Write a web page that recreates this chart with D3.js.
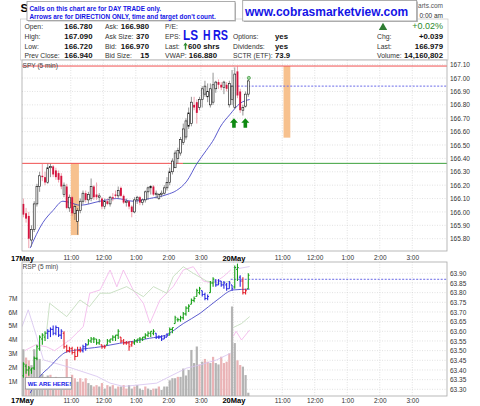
<!DOCTYPE html>
<html>
<head>
<meta charset="utf-8">
<script src="https://cdn.jsdelivr.net/npm/d3@7"></script>
<style>
body { margin: 0; background: #fff; }
svg { display: block; }
text { font-family: "Liberation Sans", Arial, sans-serif; }
</style>
</head>
<body>
<script>
// ---- axis labels / ticks ----
const dayLabels = ["17May", "20May"];
const dayStart = [0, 78];
const hourLabels = ["11:00", "12:00", "1:00", "2:00", "3:00"];
const hourOffsets = [18, 30, 42, 54, 66];
const spyTicks = [165.80, 165.90, 166.00, 166.10, 166.20, 166.30, 166.40, 166.50, 166.60, 166.70, 166.80, 166.90, 167.00, 167.10];
const rspTicks = [63.30, 63.35, 63.40, 63.45, 63.50, 63.55, 63.60, 63.65, 63.70, 63.75, 63.80, 63.85, 63.90];
const volTicks = [1, 2, 3, 4, 5, 6, 7];

// ---- SPY 5 min candles (17 May: 78 bars, 20 May: 6 bars) ----
const spyOpen = [166.06,165.99,165.97,165.79,165.87,166.06,166.19,166.27,166.26,166.22,166.33,166.34,166.31,166.29,166.27,166.13,166.19,166.03,166.11,165.99,
  165.93,166.01,166.08,166.14,166.09,166.10,166.19,166.13,166.11,166.10,166.04,166.08,166.06,166.11,166.13,166.12,166.18,166.12,166.07,166.08,
  166.04,166.00,166.09,166.11,166.07,166.09,166.15,166.18,166.19,166.13,166.10,166.13,166.14,166.18,166.22,166.30,166.33,166.40,166.44,166.52,
  166.56,166.64,166.66,166.80,166.82,166.78,166.84,166.88,166.86,166.80,166.82,166.92,166.97,166.95,166.93,166.95,166.80,166.84,
  166.78,167.05,166.90,166.76,166.79,166.88];
const spyHigh = [166.10,166.03,166.00,165.90,166.08,166.21,166.30,166.36,166.30,166.36,166.36,166.35,166.33,166.31,166.29,166.22,166.21,166.13,166.12,166.06,
  166.03,166.10,166.16,166.16,166.15,166.25,166.20,166.22,166.14,166.11,166.10,166.10,166.12,166.14,166.16,166.19,166.19,166.13,166.10,166.09,
  166.05,166.11,166.12,166.12,166.10,166.16,166.19,166.20,166.20,166.16,166.14,166.16,166.20,166.26,166.33,166.40,166.46,166.48,166.56,166.66,
  166.70,166.78,166.86,166.86,166.84,166.86,166.94,166.98,166.96,166.96,167.04,166.98,166.99,166.97,166.98,166.97,166.98,167.06,
  167.08,167.09,166.92,166.80,166.90,166.99];
const spyLow = [165.96,165.92,165.73,165.74,165.85,166.04,166.15,166.23,166.20,166.21,166.26,166.26,166.24,166.22,166.17,166.11,166.02,166.00,165.97,165.94,
  165.83,165.99,166.06,166.07,166.06,166.08,166.09,166.09,166.07,166.02,166.02,166.05,166.04,166.08,166.10,166.10,166.11,166.06,166.04,166.02,
  165.96,165.99,166.06,166.05,166.05,166.07,166.09,166.13,166.12,166.10,166.09,166.11,166.13,166.16,166.20,166.28,166.33,166.36,166.42,166.50,
  166.54,166.62,166.64,166.76,166.66,166.76,166.78,166.86,166.82,166.78,166.80,166.89,166.92,166.91,166.88,166.90,166.78,166.80,
  166.77,166.85,166.74,166.72,166.78,166.86];
const spyClose = [165.98,165.95,165.80,165.87,166.06,166.19,166.27,166.26,166.22,166.33,166.34,166.28,166.26,166.24,166.19,166.20,166.03,166.11,165.99,166.04,
  166.01,166.08,166.14,166.09,166.13,166.19,166.11,166.11,166.12,166.04,166.08,166.06,166.11,166.10,166.12,166.16,166.12,166.07,166.08,166.04,
  166.00,166.09,166.11,166.07,166.09,166.15,166.18,166.19,166.13,166.14,166.13,166.14,166.18,166.22,166.30,166.38,166.44,166.46,166.54,166.62,
  166.68,166.74,166.82,166.78,166.74,166.84,166.92,166.94,166.90,166.92,166.95,166.97,166.95,166.93,166.97,166.92,166.96,166.94,
  167.03,166.87,166.76,166.78,166.88,166.979];

// moving average (bar index, price)
const spyMaIdx = [3, 7.7, 11.4, 15.1, 17.7, 21.4, 28.8, 35, 41, 47, 53.5, 57, 60.8, 64.5, 68, 71, 73, 76.8, 80.4, 84];
const spyMaVal = [165.73, 165.92, 166.01, 166.08, 166.07, 166.05, 166.08, 166.10, 166.08, 166.10, 166.13, 166.16, 166.23, 166.36, 166.46, 166.55, 166.63, 166.73, 166.81, 166.84];

// annotations on the price panel
const bandStart = [18, 96.5];
const bandEnd = [21, 99];
const bandTop = [166.363, 167.09];
const bandBottom = [165.827, 166.555];
const dayHigh = [166.363, 167.09];
const lineSwitchIdx = 59.4;
const prevClose = 166.94;
const arrowIdx = [78.2, 82.4];
const arrowPrice = [166.70, 166.70];

// ---- RSP 5 min bars ----
const rspOpen = [63.37,63.42,63.40,63.40,63.41,63.46,63.51,63.56,63.57,63.59,63.60,63.61,63.59,63.62,63.58,63.59,63.52,63.50,63.51,63.49,
  63.47,63.50,63.50,63.52,63.53,63.55,63.56,63.56,63.54,63.53,63.52,63.53,63.55,63.56,63.57,63.58,63.57,63.55,63.54,63.54,
  63.53,63.54,63.55,63.56,63.56,63.57,63.58,63.59,63.59,63.59,63.57,63.57,63.56,63.57,63.58,63.61,63.64,63.66,63.66,63.67,
  63.69,63.72,63.74,63.76,63.78,63.80,63.81,63.79,63.77,63.80,63.85,63.86,63.84,63.86,63.84,63.84,63.82,63.84,
  63.83,63.92,63.88,63.86,63.80,63.82];
const rspHigh = [63.44,63.43,63.42,63.41,63.47,63.53,63.58,63.59,63.60,63.61,63.62,63.63,63.63,63.62,63.61,63.60,63.53,63.52,63.52,63.51,
  63.52,63.52,63.53,63.54,63.56,63.57,63.57,63.56,63.56,63.53,63.53,63.56,63.56,63.58,63.58,63.61,63.57,63.56,63.55,63.55,
  63.55,63.56,63.56,63.57,63.57,63.59,63.60,63.60,63.61,63.59,63.58,63.58,63.58,63.59,63.62,63.62,63.68,63.67,63.68,63.70,
  63.73,63.74,63.77,63.78,63.82,63.83,63.81,63.80,63.79,63.86,63.88,63.87,63.87,63.86,63.86,63.85,63.86,63.84,
  63.94,63.95,63.89,63.88,63.82,63.90];
const rspLow = [63.36,63.38,63.37,63.38,63.40,63.45,63.50,63.53,63.55,63.56,63.57,63.58,63.58,63.57,63.56,63.51,63.49,63.49,63.48,63.45,
  63.47,63.49,63.49,63.50,63.53,63.54,63.54,63.53,63.53,63.51,63.51,63.53,63.54,63.55,63.55,63.56,63.54,63.53,63.53,63.50,
  63.52,63.53,63.54,63.54,63.55,63.56,63.57,63.57,63.58,63.56,63.56,63.55,63.56,63.57,63.58,63.59,63.64,63.65,63.65,63.66,
  63.68,63.70,63.74,63.75,63.78,63.79,63.78,63.76,63.76,63.80,63.83,63.83,63.84,63.83,63.82,63.81,63.82,63.81,
  63.82,63.86,63.83,63.79,63.79,63.82];
const rspClose = [63.43,63.40,63.41,63.41,63.46,63.52,63.57,63.58,63.59,63.60,63.61,63.59,63.62,63.58,63.60,63.52,63.50,63.51,63.49,63.47,
  63.50,63.50,63.52,63.53,63.55,63.56,63.56,63.54,63.55,63.52,63.52,63.55,63.56,63.57,63.58,63.60,63.55,63.54,63.54,63.52,
  63.54,63.55,63.56,63.56,63.57,63.58,63.59,63.60,63.60,63.57,63.57,63.56,63.57,63.58,63.61,63.62,63.67,63.66,63.67,63.69,
  63.72,63.73,63.76,63.77,63.81,63.82,63.79,63.77,63.78,63.85,63.87,63.84,63.86,63.84,63.85,63.82,63.85,63.82,
  63.93,63.93,63.86,63.80,63.81,63.89];
const rspTone = ["g","g","g","g","g","g","g","g","g","b","b","b","b","b","b","r","r","r","r","r",
  "r","r","b","b","g","g","g","g","g","r","r","g","g","g","g","g","r","r","r","r",
  "r","g","g","g","g","g","g","g","g","b","b","b","b","b","g","g","g","g","g","g",
  "g","g","g","g","g","g","b","b","b","g","g","b","b","b","b","b","b","b",
  "g","g","b","r","r","g"];

// volume in millions and up/down
const volume = [3.3,2.7,2.5,2.15,3.3,2.7,2.6,1.5,1.3,1.4,1.45,1.2,1.3,1.1,1.0,1.0,2.6,1.1,1.45,1.2,
  0.95,1.2,0.95,1.2,0.85,0.7,0.6,0.7,0.6,0.85,0.45,0.7,0.6,0.7,0.45,0.6,0.6,0.7,0.45,0.7,
  0.45,0.6,0.7,0.45,0.35,0.6,0.45,0.35,0.45,0.45,0.6,0.35,0.6,0.6,1.05,1.2,1.2,1.3,1.3,1.9,
  1.4,1.8,3.25,2.3,3.5,2.2,2.4,2.6,2.4,2.3,2.75,2.3,2.2,2.76,2.3,2.4,3.0,6.4,
  3.75,2.5,2.16,2.04,1.43,0.15];
const volUp = [1,0,0,1,1,1,1,1,0,1,0,1,0,0,1,0,0,0,0,0,
  1,0,0,0,1,1,0,0,1,0,1,0,1,0,1,0,1,0,0,1,
  1,0,1,1,1,0,1,1,0,1,0,1,1,1,1,1,1,0,1,1,
  1,1,1,1,1,0,1,0,0,1,0,1,1,0,0,0,0,1,
  1,0,0,1,1,1];

// moving average and the three faint overlay lines (bar index, value)
const rspMaIdx = [3, 6.6, 10.3, 14, 15.9, 20, 29, 36, 41, 47, 53, 59.5, 65.7, 72, 78, 84];
const rspMaVal = [63.28, 63.366, 63.417, 63.47, 63.49, 63.503, 63.52, 63.538, 63.548, 63.564, 63.58, 63.64, 63.693, 63.762, 63.814, 63.818];
const lavIdx = [0, 2.3, 5.4, 7.9, 16.5, 27.6, 32.5, 37.4, 43.5, 49.7, 54.6, 60.8, 65.7, 71.8, 77];
const lavVal = [63.624, 63.711, 63.573, 63.452, 63.418, 63.367, 63.332, 63.315, 63.323, 63.332, 63.367, 63.41, 63.426, 63.452, 63.487];
const lavIdx2 = [78, 80, 84];
const lavVal2 = [63.93, 63.925, 63.935];
const pinkIdx = [1, 5, 9, 12, 17.7, 22.6, 25, 28.8, 32.5, 35, 37.4, 41, 44.8, 47.2, 50.9, 55.8, 59.5, 63.2, 66.9, 70.6, 74.3, 77];
const pinkVal = [63.50, 63.53, 63.52, 63.50, 63.556, 63.624, 63.797, 63.814, 63.917, 63.83, 63.917, 63.814, 63.745, 63.642, 63.762, 63.831, 63.917, 63.934, 63.86, 63.848, 63.883, 63.917];
const pinkIdx2 = [78, 79, 81, 84];
const pinkVal2 = [63.575, 63.60, 63.555, 63.607];
const greenIdx = [9, 10.2, 16.5, 21.4, 24.9, 28.8, 32.5, 38.6, 44.8, 48.5, 53.4, 55.8, 59.5, 63.2, 68.1, 73, 77];
const greenVal = [63.59, 63.745, 63.676, 63.762, 63.728, 63.797, 63.797, 63.831, 63.779, 63.831, 63.797, 63.883, 63.934, 63.90, 63.86, 63.848, 63.86];
const greenIdx2 = [78, 79.5, 81, 84];
const greenVal2 = [63.62, 63.63, 63.64, 63.676];
const rspRef = 63.869;

// ---- quote box ----
const qLabels1 = ["Open:", "High:", "Low:", "Prev Close:"];
const qValues1 = ["166.780", "167.090", "166.720", "166.940"];
const qLabels2 = ["Ask:", "Ask Size:", "Bid:", "Bid Size:"];
const qValues2 = ["166.980", "370", "166.970", "15"];
const qLabels3 = ["P/E:", "EPS:", "Last:", "VWAP:"];
const qLabels4 = ["", "Options:", "Dividends:", "SCTR (ETF):"];
const qValues4 = ["", "yes", "yes", "73.9"];
const qLabels5 = ["", "Chg:", "Last:", "Volume:"];
const qValues5 = ["", "+0.039", "166.979", "14,160,802"];

const W = 480, H = 406;
const blue = "#1414e6";
const svg = d3.select("body").append("svg").attr("width", W).attr("height", H);

const x = d3.scaleLinear().domain([0, 156]).range([22, 444.8]);
const yP = d3.scaleLinear().domain([165.80, 167.10]).range([238.7, 64.7]);
const yR = d3.scaleLinear().domain([63.30, 63.90]).range([389.3, 273.3]);
const yV = d3.scaleLinear().domain([0, 7]).range([394.8, 298.2]);

const pTop = { x0: 22, x1: 447, y0: 60, y1: 251 };
const pBot = { x0: 22, x1: 447, y0: 262, y1: 396 };

const defs = svg.append("defs");
[["clipTop", pTop], ["clipBot", pBot]].forEach(function(c) {
    defs.append("clipPath").attr("id", c[0]).append("rect")
        .attr("x", c[1].x0).attr("y", c[1].y0).attr("width", c[1].x1 - c[1].x0).attr("height", c[1].y1 - c[1].y0);
});

const gridIdx = [];
dayStart.forEach(function(d) { hourOffsets.forEach(function(h) { gridIdx.push(d + h); }); });
gridIdx.push(dayStart[1]);

function grid(g, p, ys, ticks) {
    g.selectAll(".hg").data(ticks).enter().append("line")
        .attr("x1", p.x0).attr("x2", p.x1).attr("y1", d => ys(d)).attr("y2", d => ys(d))
        .attr("stroke", "#cfcfcf").attr("stroke-width", 0.6).attr("stroke-dasharray", "1,1.5");
    g.selectAll(".vg").data(gridIdx).enter().append("line")
        .attr("x1", d => x(d)).attr("x2", d => x(d)).attr("y1", p.y0).attr("y2", p.y1)
        .attr("stroke", "#cfcfcf").attr("stroke-width", 0.6).attr("stroke-dasharray", "1,1.5");
}

function pts(idx, val) { return idx.map((d, i) => [d, val[i]]); }

// ================= quote header =================
// only the uncovered parts of the title / site stamp show in the reference
svg.append("text").attr("x", 20.5).attr("y", 11.7).attr("font-size", 11.5).attr("font-weight", "bold").text("S");
svg.append("text").attr("x", 443).attr("y", 8.3).attr("text-anchor", "end").attr("font-size", 6.5).attr("fill", "#555")
    .text("arts.com");
svg.append("text").attr("x", 443).attr("y", 18).attr("text-anchor", "end").attr("font-size", 6.5).attr("fill", "#333")
    .text("0:00 am");
svg.append("rect").attr("x", 20.5).attr("y", 19).attr("width", 427.5).attr("height", 41)
    .attr("fill", "none").attr("stroke", "#c8c8c8").attr("stroke-width", 0.7);

const rowY = [29, 38.5, 48.5, 58.3];
function labelCol(labels, lx) {
    svg.append("g").selectAll("text").data(labels).enter().append("text")
        .attr("x", lx).attr("y", (d, i) => rowY[i]).attr("font-size", 6.8).attr("fill", "#333").text(d => d);
}
function valueCol(values, vx, anchor) {
    svg.append("g").selectAll("text").data(values).enter().append("text")
        .attr("x", vx).attr("y", (d, i) => rowY[i]).attr("text-anchor", anchor)
        .attr("font-size", 7.8).attr("font-weight", "bold").attr("fill", "#111").text(d => d);
}
labelCol(qLabels1, 24.5); valueCol(qValues1, 92.5, "end");
labelCol(qLabels2, 105); valueCol(qValues2, 149, "end");
labelCol(qLabels3, 165);
labelCol(qLabels4, 233); valueCol(qValues4, 275, "start");
labelCol(qLabels5, 377); valueCol(qValues5, 443, "end");
svg.append("text").attr("x", 217).attr("y", rowY[3]).attr("text-anchor", "end")
    .attr("font-size", 7.8).attr("font-weight", "bold").attr("fill", "#111").text("166.880");
svg.append("path").attr("d", "M185.5,42.5 L183.3,45.6 L184.8,45.6 L184.8,49.5 L186.2,49.5 L186.2,45.6 L187.7,45.6 Z")
    .attr("fill", "#2e8b2e");
svg.append("text").attr("x", 188).attr("y", rowY[2]).attr("font-size", 7.8).attr("font-weight", "bold")
    .attr("fill", "#111").text("600 shrs");
svg.append("path").attr("d", "M383,22.8 L387.2,30 L378.8,30 Z").attr("fill", "#2e7d32");
svg.append("text").attr("x", 443).attr("y", 29.3).attr("text-anchor", "end").attr("font-size", 9)
    .attr("fill", "#2e8b2e").text("+0.02%");

// LS H RS
[["LS", 183, 15], ["H", 203, 7.5], ["RS", 213, 15]].forEach(function(t) {
    svg.append("text").attr("x", t[1]).attr("y", 39.5).attr("font-size", 14).attr("font-weight", "bold")
        .attr("fill", blue).attr("textLength", t[2]).attr("lengthAdjust", "spacingAndGlyphs").text(t[0]);
});

// note boxes
svg.append("rect").attr("x", 28).attr("y", 2.5).attr("width", 208).attr("height", 19).attr("fill", "#bbb");
svg.append("rect").attr("x", 27).attr("y", 1.5).attr("width", 208).attr("height", 19)
    .attr("fill", "#fff").attr("stroke", "#9a9a9a").attr("stroke-width", 0.8);
svg.append("text").attr("x", 29.5).attr("y", 10.6).attr("font-size", 6.4).attr("font-weight", "bold")
    .attr("fill", blue).text("Calls on this chart are for DAY TRADE only.");
svg.append("text").attr("x", 29.5).attr("y", 18.9).attr("font-size", 6.4).attr("font-weight", "bold")
    .attr("fill", blue).text("Arrows are for DIRECTION ONLY, time and target don't count.");

svg.append("rect").attr("x", 244).attr("y", 1.5).attr("width", 174).attr("height", 20.5).attr("fill", "#bbb");
svg.append("rect").attr("x", 242.7).attr("y", 0.5).attr("width", 174).attr("height", 20.5)
    .attr("fill", "#fff").attr("stroke", "#9a9a9a").attr("stroke-width", 0.8);
svg.append("text").attr("x", 245).attr("y", 16.3).attr("font-size", 12).attr("font-weight", "bold")
    .attr("fill", blue).text("www.cobrasmarketview.com");

// ================= price panel =================
const gT = svg.append("g");
gT.append("rect").attr("x", pTop.x0).attr("y", pTop.y0).attr("width", pTop.x1 - pTop.x0).attr("height", pTop.y1 - pTop.y0).attr("fill", "#fff");
grid(gT, pTop, yP, spyTicks);
const cT = gT.append("g").attr("clip-path", "url(#clipTop)");

cT.selectAll(".band").data(bandStart).enter().append("rect")
    .attr("x", (d, i) => x(d)).attr("width", (d, i) => x(bandEnd[i]) - x(d))
    .attr("y", (d, i) => yP(bandTop[i])).attr("height", (d, i) => yP(bandBottom[i]) - yP(bandTop[i]))
    .attr("fill", "#f7c18e");

cT.append("line").attr("x1", pTop.x0).attr("x2", pTop.x1).attr("y1", yP(dayHigh[1])).attr("y2", yP(dayHigh[1]))
    .attr("stroke", "#f05050").attr("stroke-width", 1);
cT.append("line").attr("x1", pTop.x0).attr("x2", x(lineSwitchIdx)).attr("y1", yP(dayHigh[0])).attr("y2", yP(dayHigh[0]))
    .attr("stroke", "#f05050").attr("stroke-width", 1);
cT.append("line").attr("x1", x(lineSwitchIdx)).attr("x2", pTop.x1).attr("y1", yP(dayHigh[0])).attr("y2", yP(dayHigh[0]))
    .attr("stroke", "#3aa03a").attr("stroke-width", 1);
cT.append("line").attr("x1", x(dayStart[1] - 1)).attr("x2", pTop.x1).attr("y1", yP(prevClose)).attr("y2", yP(prevClose))
    .attr("stroke", "#6a6ae8").attr("stroke-width", 1).attr("stroke-dasharray", "2,1.5");

cT.append("path").datum(pts(spyMaIdx, spyMaVal))
    .attr("d", d3.line().x(d => x(d[0])).y(d => yP(d[1])).curve(d3.curveMonotoneX))
    .attr("fill", "none").attr("stroke", "#4a4ac8").attr("stroke-width", 0.9);

const bw = 1.9;
const candle = cT.selectAll(".c").data(spyClose).enter().append("g");
candle.append("line")
    .attr("x1", (d, i) => x(i + 0.5)).attr("x2", (d, i) => x(i + 0.5))
    .attr("y1", (d, i) => yP(spyHigh[i])).attr("y2", (d, i) => yP(spyLow[i]))
    .attr("stroke", (d, i) => d >= spyOpen[i] ? "#666" : "#e5788a").attr("stroke-width", 0.7);
candle.append("rect")
    .attr("x", (d, i) => x(i + 0.5) - bw / 2).attr("width", bw)
    .attr("y", (d, i) => yP(Math.max(d, spyOpen[i])))
    .attr("height", (d, i) => Math.max(0.8, Math.abs(yP(d) - yP(spyOpen[i]))))
    .attr("fill", (d, i) => d >= spyOpen[i] ? "#fff" : "#d4143f")
    .attr("stroke", (d, i) => d >= spyOpen[i] ? "#111" : "none").attr("stroke-width", 0.6);

cT.selectAll(".arrow").data(arrowIdx).enter().append("path")
    .attr("transform", (d, i) => `translate(${x(d)},${yP(arrowPrice[i])})`)
    .attr("d", "M0,0 L4,4.5 L1.8,4.5 L1.8,9.5 L-1.8,9.5 L-1.8,4.5 L-4,4.5 Z")
    .attr("fill", "#0f8a12");
cT.append("circle").attr("cx", x(spyClose.length - 0.3)).attr("cy", yP(spyHigh[spyHigh.length - 1]) - 1.5).attr("r", 1.6)
    .attr("fill", "#9fd89f").attr("stroke", "#2e8b2e").attr("stroke-width", 0.6);

gT.append("text").attr("x", 22.5).attr("y", 68.3).attr("font-size", 6.6).attr("fill", "#444").text("SPY (5 min)");
gT.append("rect").attr("x", pTop.x0).attr("y", pTop.y0).attr("width", pTop.x1 - pTop.x0).attr("height", pTop.y1 - pTop.y0)
    .attr("fill", "none").attr("stroke", "#a8a8a8").attr("stroke-width", 0.8);

// ================= RSP / volume panel =================
const gB = svg.append("g");
grid(gB, pBot, yR, rspTicks);
const cB = gB.append("g").attr("clip-path", "url(#clipBot)");

cB.selectAll(".v").data(volume).enter().append("rect")
    .attr("x", (d, i) => x(i) + 0.25).attr("width", x(1) - x(0) - 0.5)
    .attr("y", d => yV(d)).attr("height", d => yV(0) - yV(d) + 2)
    .attr("fill", (d, i) => volUp[i] ? "#b4b4b4" : "#eab3b6");

const faint = d3.line().x(d => x(d[0])).y(d => yR(d[1])).curve(d3.curveLinear);
[[lavIdx, lavVal, "#d6c2ef"], [lavIdx2, lavVal2, "#d6c2ef"],
 [pinkIdx, pinkVal, "#f2b3ea"], [pinkIdx2, pinkVal2, "#f2b3ea"],
 [greenIdx, greenVal, "#bfd9b8"], [greenIdx2, greenVal2, "#bfd9b8"]].forEach(function(s) {
    cB.append("path").datum(pts(s[0], s[1])).attr("d", faint)
        .attr("fill", "none").attr("stroke", s[2]).attr("stroke-width", 0.8);
});

cB.append("path").datum(pts(rspMaIdx, rspMaVal))
    .attr("d", d3.line().x(d => x(d[0])).y(d => yR(d[1])).curve(d3.curveMonotoneX))
    .attr("fill", "none").attr("stroke", "#4a4ac8").attr("stroke-width", 0.9);
cB.append("line").attr("x1", x(dayStart[1] - 1)).attr("x2", pBot.x1).attr("y1", yR(rspRef)).attr("y2", yR(rspRef))
    .attr("stroke", "#4040e0").attr("stroke-width", 0.8).attr("stroke-dasharray", "2,1.5");

const toneColor = { g: "#18a018", b: "#2a2ae0", r: "#e3202c" };
const bar = cB.selectAll(".b").data(rspClose).enter().append("g")
    .attr("stroke", (d, i) => toneColor[rspTone[i]]).attr("stroke-width", 1.1);
bar.append("line").attr("x1", (d, i) => x(i + 0.5)).attr("x2", (d, i) => x(i + 0.5))
    .attr("y1", (d, i) => yR(rspHigh[i])).attr("y2", (d, i) => yR(rspLow[i]));
bar.append("line").attr("x1", (d, i) => x(i + 0.5) - 1.3).attr("x2", (d, i) => x(i + 0.5))
    .attr("y1", (d, i) => yR(rspOpen[i])).attr("y2", (d, i) => yR(rspOpen[i]));
bar.append("line").attr("x1", (d, i) => x(i + 0.5)).attr("x2", (d, i) => x(i + 0.5) + 1.3)
    .attr("y1", d => yR(d)).attr("y2", d => yR(d));

gB.append("text").attr("x", 22.5).attr("y", 268.8).attr("font-size", 6.6).attr("fill", "#444").text("RSP (5 min)");
gB.append("rect").attr("x", 26.5).attr("y", 378.5).attr("width", 46).attr("height", 11.5).attr("fill", "#c4c4c4");
gB.append("rect").attr("x", 25.5).attr("y", 377.5).attr("width", 46).attr("height", 11.5)
    .attr("fill", "#fff").attr("stroke", "#8a8a8a").attr("stroke-width", 0.7);
gB.append("text").attr("x", 27.8).attr("y", 386.2).attr("font-size", 5.9).attr("font-weight", "bold")
    .attr("fill", blue).text("WE ARE HERE!");
gB.append("rect").attr("x", pBot.x0).attr("y", pBot.y0).attr("width", pBot.x1 - pBot.x0).attr("height", pBot.y1 - pBot.y0)
    .attr("fill", "none").attr("stroke", "#a8a8a8").attr("stroke-width", 0.8);

// ================= axes =================
function styleAxis(g) {
    g.select(".domain").remove();
    g.selectAll("text").attr("font-size", 6.5).attr("fill", "#333").attr("font-family", '"Liberation Sans", Arial, sans-serif');
}
svg.append("g").attr("transform", "translate(448.5,0)")
    .call(d3.axisRight(yP).tickValues(spyTicks).tickFormat(d3.format(".2f")).tickSize(0).tickPadding(1.5)).call(styleAxis);
svg.append("g").attr("transform", "translate(448.5,0)")
    .call(d3.axisRight(yR).tickValues(rspTicks).tickFormat(d3.format(".2f")).tickSize(0).tickPadding(1.5)).call(styleAxis);
svg.append("g").attr("transform", "translate(18,0)")
    .call(d3.axisLeft(yV).tickValues(volTicks).tickFormat(d => d + "M").tickSize(0).tickPadding(0.5)).call(styleAxis);

const xTickIdx = [];
const xTickText = {};
dayStart.forEach(function(d, k) {
    xTickIdx.push(d); xTickText[d] = dayLabels[k];
    hourOffsets.forEach(function(h, j) { xTickIdx.push(d + h); xTickText[d + h] = hourLabels[j]; });
});
[254.6, 397].forEach(function(ty) {
    const ax = svg.append("g").attr("transform", `translate(0,${ty})`)
        .call(d3.axisBottom(x).tickValues(xTickIdx).tickFormat(d => xTickText[d]).tickSize(0).tickPadding(1))
        .call(styleAxis);
    ax.selectAll(".tick text").filter(d => dayStart.indexOf(d) >= 0)
        .attr("font-weight", "bold").attr("font-size", 7.5).attr("fill", "#000");
});
</script>
</body>
</html>
